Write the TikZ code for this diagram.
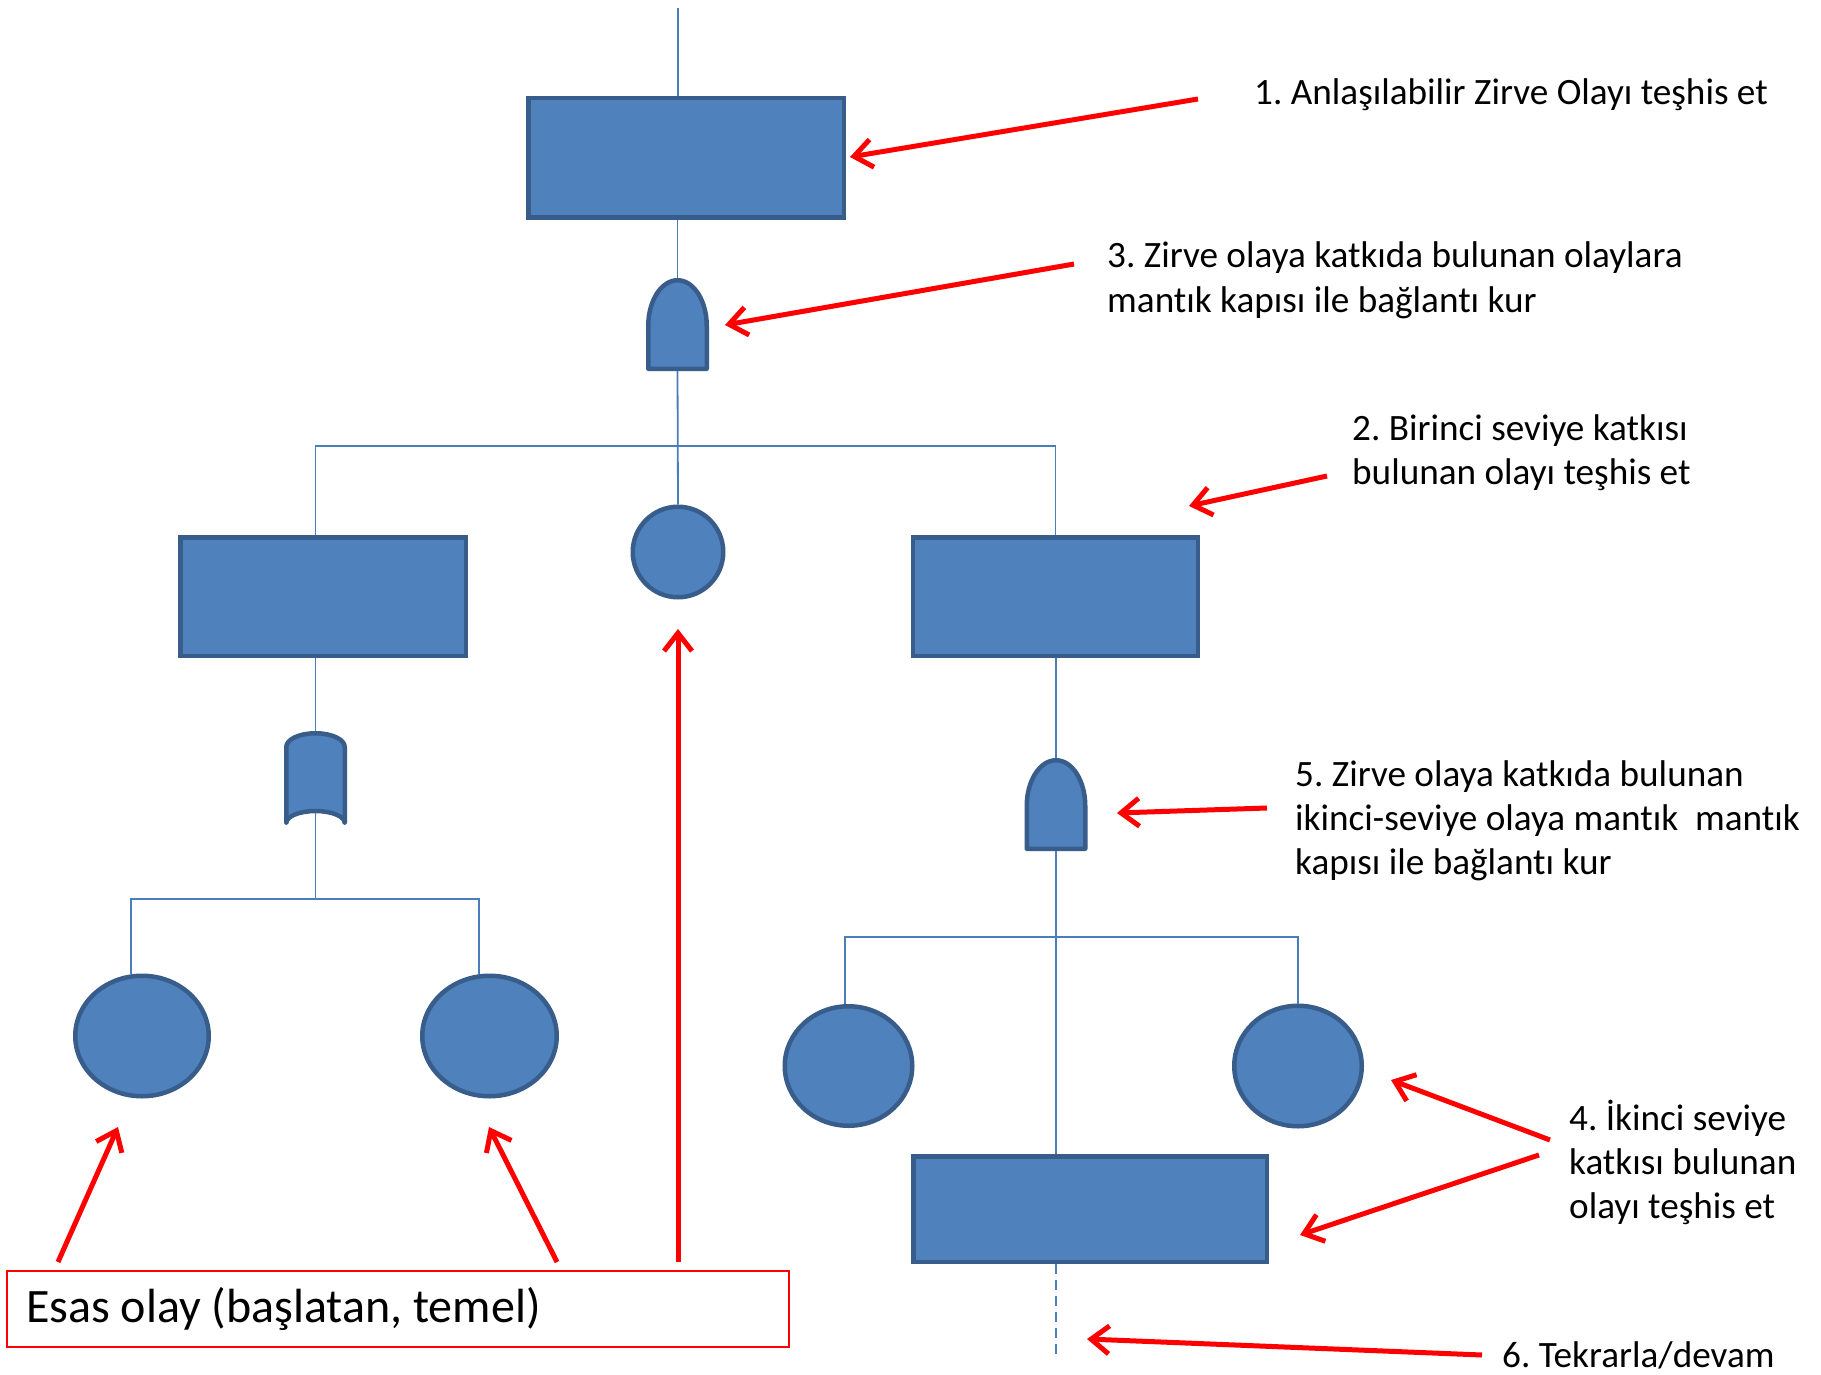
\documentclass[tikz,border=0pt]{standalone}
\usepackage{fontspec}
\setmainfont{Carlito}[Ligatures=NoCommon]
\usetikzlibrary{shapes.geometric,arrows.meta,calc}
\definecolor{evfill}{HTML}{4F81BD}
\definecolor{evborder}{HTML}{385D8A}
\definecolor{connblue}{HTML}{4A7EBB}
\frenchspacing
\tikzset{
  event/.style={draw=evborder, fill=evfill, line width=4.5pt, inner sep=0pt},
  ellev/.style={event, ellipse},
  conn/.style={draw=connblue, line width=1.8pt},
  note/.style={anchor=base west, align=left, inner sep=0pt, font=\fontsize{37.2}{44}\selectfont},
  callout/.style={draw=red, line width=5pt, -{Straight Barb[length=18pt,width=28pt]}},
  gatestyle/.style={draw=evborder, fill=evfill, line width=4.5pt, line join=round},
  andgate/.pic={
    \path[gatestyle] (-29.25,44.25) -- (-29.25,1.5)
      .. controls (-29.25,-23.77) and (-16.15,-44.25) .. (0,-44.25)
      .. controls (16.15,-44.25) and (29.25,-23.77) .. (29.25,1.5)
      -- (29.25,44.25) -- cycle;
    \coordinate (-top) at (0,-46.5);
    \coordinate (-bot) at (0,46.5);
  },
  orgate/.pic={
    \path[gatestyle] (-29.25,45) -- (-29.25,-31)
      .. controls (-29.25,-38.6) and (-16.15,-44.75) .. (0,-44.75)
      .. controls (16.15,-44.75) and (29.25,-38.6) .. (29.25,-31)
      -- (29.25,45)
      .. controls (29.25,38.4) and (16.15,33) .. (0,33)
      .. controls (-16.15,33) and (-29.25,38.4) .. (-29.25,45) -- cycle;
    \coordinate (-top) at (0,-47);
    \coordinate (-bot) at (0,35);
  }
}
\begin{document}
\begin{tikzpicture}[x=1pt,y=-1pt]
\useasboundingbox[fill=white] (0,0) rectangle (1821,1375);

% events
\node[event, minimum width=315.5pt, minimum height=119.5pt] (top) at (686,158) {};
\pic (and1) at (677.5,324.5) {andgate};
\node[event, minimum width=285.5pt, minimum height=118.5pt] (lrect) at (323,596.5) {};
\node[ellev, minimum width=90.5pt, minimum height=90.5pt] (midc) at (678,552) {};
\node[event, minimum width=285pt, minimum height=118.5pt] (rrect) at (1055.5,596.5) {};
\pic (or1) at (315.5,778) {orgate};
\pic (and2) at (1056,804.5) {andgate};
\node[ellev, minimum width=133.5pt, minimum height=120.5pt] (el1) at (142,1036) {};
\node[ellev, minimum width=134.5pt, minimum height=120.5pt] (el2) at (489.5,1036) {};
\node[ellev, minimum width=127.5pt, minimum height=119.5pt] (el3) at (848.5,1066) {};
\node[ellev, minimum width=127.5pt, minimum height=120.5pt] (el4) at (1298,1066) {};
\node[event, minimum width=353.5pt, minimum height=105.5pt] (brect) at (1090,1209) {};

% connectors
\coordinate (start) at (678,8);
\coordinate (j1) at (678,446);
\coordinate (j2) at (315.5,899);
\coordinate (j3) at (1056,937);
\coordinate (dend) at (1056,1354);
\draw[conn] (start) -- (start |- top.north);
\draw[conn] (top.south -| and1-top) -- (and1-top);
\draw[conn] (and1-bot) -- (midc.north);
\draw[conn] (or1-top |- lrect.north) -- (or1-top |- j1) -- (rrect.north |- j1) -- (rrect.north);
\draw[conn] (lrect.south -| or1-top) -- (or1-top);
\draw[conn] (or1-bot) -- (j2);
\draw[conn] (el1.100) |- (j2) -| (el2.100);
\draw[conn] (rrect.south -| and2-top) -- (and2-top);
\draw[conn] (and2-bot) -- (and2-bot |- brect.north);
\draw[conn] (el3.93) |- (j3) -| (el4.north);
\draw[conn, dash pattern=on 10pt off 6pt] (brect.south -| and2-bot) -- (dend);

% notes (anchor = baseline of the last line)
\node[note] (n1) at (1254,105) {1. Anlaşılabilir Zirve Olayı teşhis et};
\node[note] (n3) at (1107,312) {3. Zirve olaya katkıda bulunan olaylara\\mantık kapısı ile bağlantı kur};
\node[note] (n2) at (1352,484) {2. Birinci seviye katkısı\\bulunan olayı teşhis et};
\node[note] (n5) at (1295,874) {5. Zirve olaya katkıda bulunan\\ikinci-seviye olaya mantık\ \ mantık\\kapısı ile bağlantı kur};
\node[note] (n4) at (1569,1218) {4. İkinci seviye\\katkısı bulunan\\olayı teşhis et};
\node[note] (n6) at (1502,1367) {6. Tekrarla/devam};
\node[draw=red, line width=1.8pt, minimum width=782pt, minimum height=76pt,
      inner xsep=19pt, font=\fontsize{48}{56}\selectfont] (esas) at (398,1309)
      {\makebox[744pt][l]{Esas olay (başlatan, temel)}};

% callout arrows
\coordinate (a1s) at (1198,99);   \coordinate (a1e) at (850,157);
\coordinate (a3s) at (1074,264);  \coordinate (a3e) at (725,325);
\coordinate (a2s) at (1327,476);  \coordinate (a2e) at (1189,506);
\coordinate (a5s) at (1267,808);  \coordinate (a5e) at (1117,813);
\coordinate (a4as) at (1550,1140); \coordinate (a4ae) at (1391,1080);
\coordinate (a4bs) at (1539,1155); \coordinate (a4be) at (1300,1235);
\coordinate (a6s) at (1482,1355); \coordinate (a6e) at (1087,1339);
\coordinate (aLs) at (58,1262);   \coordinate (aLe) at (118,1127);
\coordinate (aRs) at (557,1262);  \coordinate (aRe) at (489,1127);
\coordinate (aMs) at (678,1262);  \coordinate (aMe) at (678,629);
\draw[callout] (a1s) -- (a1e);
\draw[callout] (a3s) -- (a3e);
\draw[callout] (a2s) -- (a2e);
\draw[callout] (a5s) -- (a5e);
\draw[callout] (a4as) -- (a4ae);
\draw[callout] (a4bs) -- (a4be);
\draw[callout] (a6s) -- (a6e);
\draw[callout] (aLs) -- (aLe);
\draw[callout] (aRs) -- (aRe);
\draw[callout] (aMs) -- (aMe);
\end{tikzpicture}
\end{document}
